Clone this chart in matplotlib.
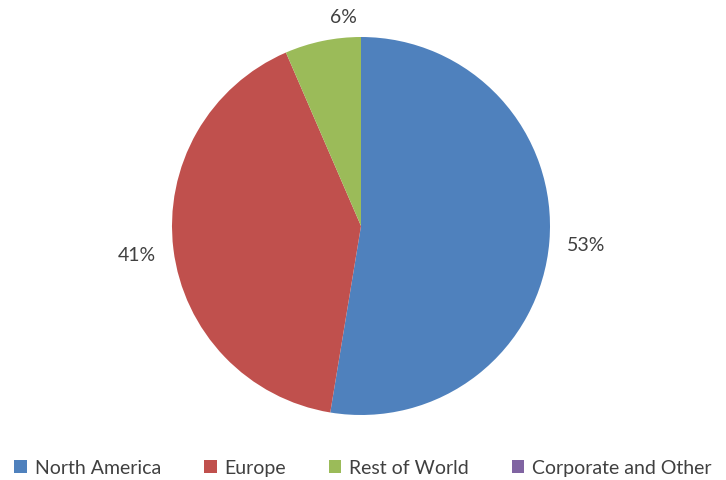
import matplotlib.pyplot as plt
from matplotlib.patches import Patch

# Regional split (percent)
regions = ["North America", "Europe", "Rest of World", "Corporate and Other"]
shares = [52.6, 40.9, 6.5, 0.0]
colors = ["#4F81BD", "#C0504D", "#9BBB59", "#8064A2"]
pct_labels = ["53%", "41%", "6%", ""]

plt.rcParams["font.family"] = ["Lato", "DejaVu Sans"]
text_color = "#404040"

fig = plt.figure(figsize=(7.26, 4.81), dpi=100)
ax = fig.add_axes([172 / 726, 65 / 481, 378 / 726, 378 / 481])

wedges, _ = ax.pie(shares, colors=colors, startangle=90, counterclock=False,
                   radius=1.0, wedgeprops=dict(linewidth=0))
ax.set_xlim(-1, 1)
ax.set_ylim(-1, 1)
ax.set_aspect("equal")
ax.axis("off")

# label offsets (Excel "best fit"-like placement), in pie radius units
label_pos = [(1.19, -0.10), (-1.185, -0.15), (-0.095, 1.11)]
for txt, (x, y) in zip(pct_labels, label_pos):
    ax.text(x, y, txt, ha="center", va="center", fontsize=14, color=text_color)

handles = [Patch(facecolor=c, edgecolor="none") for c in colors]
fig.legend(handles, regions, loc="center", bbox_to_anchor=(0.5, 12 / 481), ncol=4,
           frameon=False, fontsize=14, handlelength=0.65, handleheight=0.65,
           handletextpad=0.4, columnspacing=2.2, labelcolor=text_color)

fig.savefig("out.png", dpi=100)
